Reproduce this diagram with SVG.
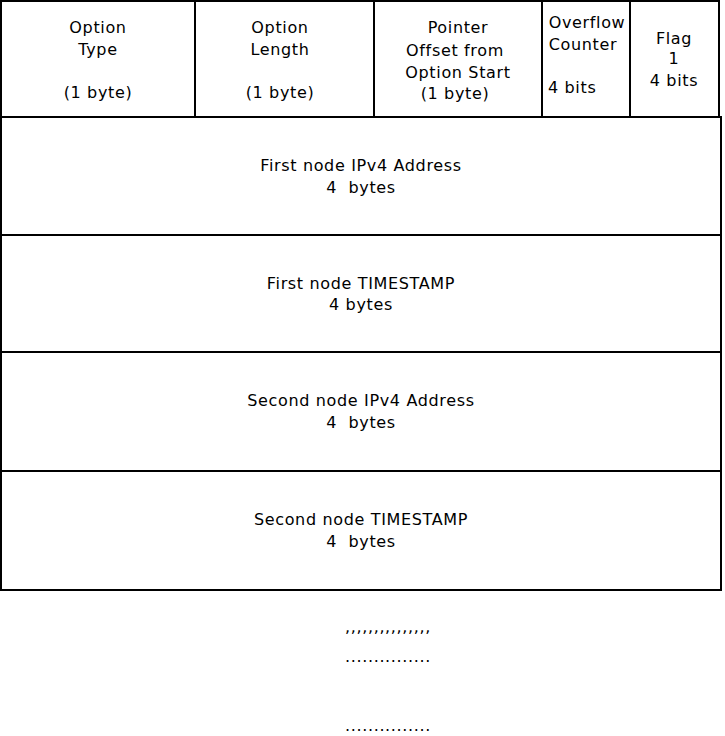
<svg xmlns="http://www.w3.org/2000/svg" width="725" height="736" viewBox="0 0 725 736">
<style>
rect.box{fill:#fff;stroke:#000;stroke-width:2}
text{font-family:"DejaVu Sans",sans-serif;font-size:16px;fill:#000;letter-spacing:0.65px}
.c{text-anchor:middle}
</style>
<rect width="725" height="736" fill="#fff"/>
<g id="option-type"><rect class="box" x="1" y="1" width="194" height="116"/><text class="c" x="98" y="33">Option</text><text class="c" x="98" y="55">Type</text><text class="c" x="98" y="98">(1 byte)</text></g>
<g id="option-length"><rect class="box" x="195" y="1" width="179" height="116"/><text class="c" x="280" y="33">Option</text><text class="c" x="280" y="55">Length</text><text class="c" x="280" y="98">(1 byte)</text></g>
<g id="pointer"><rect class="box" x="374" y="1" width="168" height="116"/><text class="c" x="458" y="33">Pointer</text><text class="c" x="455" y="56">Offset from</text><text class="c" x="458" y="78">Option Start</text><text class="c" x="455" y="99">(1 byte)</text></g>
<g id="overflow"><rect class="box" x="542" y="1" width="88" height="116"/><text class="c" x="587" y="28">Overflow</text><text class="c" x="583" y="50">Counter</text><text x="548" y="93">4 bits</text></g>
<g id="flag"><rect class="box" x="630" y="1" width="89" height="116"/><text class="c" x="674" y="44">Flag</text><text class="c" x="674" y="64">1</text><text class="c" x="674" y="86">4 bits</text></g>
<g id="first-ip"><rect class="box" x="1" y="117" width="720" height="118"/><text class="c" x="361" y="171">First node IPv4 Address</text><text class="c" x="361" y="193" xml:space="preserve">4  bytes</text></g>
<g id="first-ts"><rect class="box" x="1" y="235" width="720" height="117"/><text class="c" x="361" y="289">First node TIMESTAMP</text><text class="c" x="361" y="310">4 bytes</text></g>
<g id="second-ip"><rect class="box" x="1" y="352" width="720" height="119"/><text class="c" x="361" y="406">Second node IPv4 Address</text><text class="c" x="361" y="428" xml:space="preserve">4  bytes</text></g>
<g id="second-ts"><rect class="box" x="1" y="471" width="720" height="119"/><text class="c" x="361" y="525">Second node TIMESTAMP</text><text class="c" x="361" y="547" xml:space="preserve">4  bytes</text></g>
<g id="connectors"></g>
<g id="ellipsis"><text class="c" x="388" y="632">,,,,,,,,,,,,,,,</text><text class="c" x="388" y="662">...............</text><text class="c" x="388" y="731">...............</text></g>
</svg>
